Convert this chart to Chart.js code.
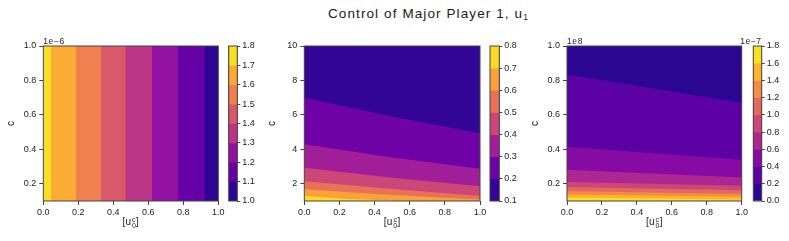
<!DOCTYPE html>
<html>
<head>
<meta charset="utf-8">
<script src="https://cdn.jsdelivr.net/npm/chart.js@4.4.1/dist/chart.umd.min.js"></script>
<style>
  body { margin: 0; width: 789px; height: 241px; position: relative; overflow: hidden; background: #fff;
         font-family: "Liberation Sans", Arial, sans-serif; color: #1a1a1a; }
  canvas { position: absolute; }
  .txt { position: absolute; white-space: nowrap; }
  .title { left: 328px; top: 6px; font-size: 13.5px; line-height: 15px; letter-spacing: 1.1px; }
  .title sub { font-size: 8.5px; vertical-align: -2px; }
  .xl { top: 215px; font-size: 10px; line-height: 14px; letter-spacing: 0.3px; transform: translateX(-50%); }
  .ss { display: inline-block; vertical-align: -3px; font-size: 7px; line-height: 6.5px; text-align: center; margin-left: 0.5px; }
  .ss span { display: block; }
  .off { top: 35.5px; font-size: 8.5px; line-height: 10px; letter-spacing: 0.6px; }
</style>
</head>
<body>
<div class="txt title">Control of Major Player 1, u<sub>1</sub></div>
<script>
// ---- data ----
const xTicks = [0, 0.2, 0.4, 0.6, 0.8, 1.0];

// panel 1: field only depends on x, so contour levels are vertical lines
const p1Levels = [1.0, 1.1, 1.2, 1.3, 1.4, 1.5, 1.6, 1.7, 1.8];
const p1CrossX = [0.922, 0.768, 0.621, 0.469, 0.330, 0.187, 0.044]; // levels 1.1 .. 1.7
const p1YTicks = [0.2, 0.4, 0.6, 0.8, 1.0];
const p1CbTicks = [1.0, 1.1, 1.2, 1.3, 1.4, 1.5, 1.6, 1.7, 1.8];

// panel 2: c where the field crosses each inner level (0.2 .. 0.7)
const p2Levels = [0.1, 0.2, 0.3, 0.4, 0.5, 0.6, 0.7, 0.8];
const p2CrossX = [[0, 0.5, 1], [0, 0.5, 1], [0, 0.5, 1], [0, 0.5, 1], [0, 0.5, 1], [0, 0.2, 0.55, 1]];
const p2CrossC = [
  [6.99, 5.91, 4.94],
  [4.30, 3.53, 2.87],
  [2.93, 2.35, 1.85],
  [2.14, 1.70, 1.29],
  [1.68, 1.35, 1.08],
  [1.31, 1.14, 1.00, 1.00]
];
const p2YTicks = [2, 4, 6, 8, 10];
const p2CbTicks = [0.1, 0.2, 0.3, 0.4, 0.5, 0.6, 0.7, 0.8];

// panel 3: c (x1e8) where the field (x1e-7) crosses levels 0.2 .. 1.6
const p3Levels = [0.0, 0.2, 0.4, 0.6, 0.8, 1.0, 1.2, 1.4, 1.6, 1.8];
const p3CrossX = [0, 1];
const p3CrossC = [
  [0.834, 0.670],
  [0.415, 0.340],
  [0.282, 0.236],
  [0.210, 0.188],
  [0.181, 0.162],
  [0.157, 0.142],
  [0.138, 0.125],
  [0.120, 0.108]
];
const p3YTicks = [0.2, 0.4, 0.6, 0.8, 1.0];
const p3CbTicks = [0.0, 0.2, 0.4, 0.6, 0.8, 1.0, 1.2, 1.4, 1.6, 1.8];

// ---- layout / style ----
const FONT = '"Liberation Sans", Arial, sans-serif';
const INK = '#1a1a1a';
const EDGE = '#444444';
const figTop = 30, figH = 211, plotTop = 46, plotBottom = 201;
const panels = [
  { left: 43.3, right: 218.3, cbLeft: 228.7, cbRight: 237.3 },
  { left: 304.3, right: 480.0, cbLeft: 490.0, cbRight: 499.3 },
  { left: 567.0, right: 741.7, cbLeft: 753.3, cbRight: 761.7 }
];

const plasmaStops = ['#0d0887', '#41049d', '#6a00a8', '#8f0da4', '#b12a90', '#cc4778',
                     '#e16462', '#f2844b', '#fca636', '#fcce25', '#f0f921'];
function plasma(t) {
  const s = Math.min(Math.max(t, 0), 1) * 10;
  const i = Math.min(Math.floor(s), 9), f = s - i;
  const a = plasmaStops[i], b = plasmaStops[i + 1];
  const ch = (h, k) => parseInt(h.slice(1 + 2 * k, 3 + 2 * k), 16);
  const c = [0, 1, 2].map(k => Math.round(ch(a, k) + (ch(b, k) - ch(a, k)) * f));
  return `rgb(${c[0]},${c[1]},${c[2]})`;
}
function bandColors(levels) {
  const n = levels.length - 1;
  return Array.from({ length: n }, (_, i) => plasma((i + 0.5) / n));
}

const frame = {
  id: 'frame',
  afterDraw(chart) {
    const a = chart.chartArea, ctx = chart.ctx;
    ctx.save();
    ctx.strokeStyle = EDGE;
    ctx.lineWidth = 1;
    ctx.strokeRect(a.left, a.top, a.right - a.left, a.bottom - a.top);
    ctx.restore();
  }
};

function addCanvas(left, width) {
  const c = document.createElement('canvas');
  c.width = width;
  c.height = figH;
  c.style.left = left + 'px';
  c.style.top = figTop + 'px';
  document.body.appendChild(c);
  return c;
}

function addText(cls, html, left, right) {
  const d = document.createElement('div');
  d.className = 'txt ' + cls;
  d.innerHTML = html;
  if (left != null) d.style.left = left + 'px';
  if (right != null) d.style.right = (789 - right) + 'px';
  document.body.appendChild(d);
}

const fixTicks = vals => s => { s.ticks = vals.map(v => ({ value: v })); };
const tickFont = { family: FONT, size: 9 };

function plotChart(p, datasets, yMin, yMax, yTicks, yFmt) {
  const cl = Math.floor(p.left - 44);
  const cw = Math.ceil(p.right) + 12 - cl;
  const yw = p.left - cl;
  new Chart(addCanvas(cl, cw), {
    type: 'line',
    data: { datasets },
    options: {
      responsive: false,
      animation: false,
      layout: { padding: { top: plotTop - figTop, right: cl + cw - p.right, bottom: 0, left: 0 } },
      plugins: { legend: { display: false }, tooltip: { enabled: false } },
      elements: { point: { radius: 0 }, line: { borderWidth: 0, borderColor: 'transparent', tension: 0 } },
      scales: {
        x: {
          type: 'linear', min: 0, max: 1,
          afterBuildTicks: fixTicks(xTicks),
          afterFit: s => { s.height = figTop + figH - plotBottom; },
          ticks: { font: tickFont, color: INK, padding: 2, maxRotation: 0, autoSkip: false,
                   callback: v => v.toFixed(1) },
          grid: { drawOnChartArea: false, tickLength: 4, color: EDGE },
          border: { display: false }
        },
        y: {
          type: 'linear', min: yMin, max: yMax,
          afterBuildTicks: fixTicks(yTicks),
          afterFit: s => { s.width = yw; },
          ticks: { font: tickFont, color: INK, padding: 3, autoSkip: false, callback: yFmt },
          grid: { drawOnChartArea: false, tickLength: 4, color: EDGE },
          border: { display: false },
          title: { display: true, text: 'c', color: INK, font: { family: FONT, size: 10 },
                   padding: { top: p.left - 32 - cl - 6, bottom: 0 } }
        }
      }
    },
    plugins: [frame]
  });
  addText('xl', '[u<span class="ss"><span>c</span><span>0</span></span>]', (p.left + p.right) / 2);
}

function colorbar(p, levels, ticks) {
  const colors = bandColors(levels);
  const n = colors.length;
  const cl = Math.floor(p.cbLeft) - 2;
  const cw = 42;
  const datasets = colors.map((col, i) => ({
    data: [[levels[i], levels[n]]],
    backgroundColor: col,
    borderWidth: 0,
    order: n - 1 - i
  }));
  new Chart(addCanvas(cl, cw), {
    type: 'bar',
    data: { labels: [''], datasets },
    options: {
      responsive: false,
      animation: false,
      datasets: { bar: { grouped: false, barPercentage: 1, categoryPercentage: 1 } },
      layout: { padding: { top: plotTop - figTop, bottom: figTop + figH - plotBottom, left: p.cbLeft - cl, right: 0 } },
      plugins: { legend: { display: false }, tooltip: { enabled: false } },
      scales: {
        x: { display: false },
        y: {
          position: 'right', min: levels[0], max: levels[n],
          afterBuildTicks: fixTicks(ticks),
          afterFit: s => { s.width = cw - (p.cbRight - cl); },
          ticks: { font: tickFont, color: INK, padding: 2, autoSkip: false,
                   callback: v => v.toFixed(1) },
          grid: { drawOnChartArea: false, tickLength: 3, color: EDGE },
          border: { display: false }
        }
      }
    },
    plugins: [frame]
  });
}

// panel 1: vertical bands, each drawn from its crossing to the right edge, darker on top
function verticalBands(levels, cross, yMax) {
  const colors = bandColors(levels);
  const n = colors.length;
  const sets = [{ data: [{ x: 0, y: yMax }, { x: 1, y: yMax }], fill: 'start', backgroundColor: colors[n - 1], order: n }];
  cross.forEach((x, k) => {
    sets.push({ data: [{ x: x, y: yMax }, { x: 1, y: yMax }], fill: 'start', backgroundColor: colors[k], order: k });
  });
  return sets;
}

// panels 2,3: each crossing line filled up to the top, lower levels on top
function curvedBands(levels, crossX, crossC, yMin) {
  const colors = bandColors(levels);
  const n = colors.length;
  const sets = [{ data: [{ x: 0, y: yMin }, { x: 1, y: yMin }], fill: 'end', backgroundColor: colors[n - 1], order: n }];
  crossC.forEach((cs, k) => {
    const xs = Array.isArray(crossX[0]) ? crossX[k] : crossX;
    sets.push({ data: cs.map((c, j) => ({ x: xs[j], y: c })), fill: 'end', backgroundColor: colors[k], order: k });
  });
  return sets;
}

const f1 = v => v.toFixed(1);
const f0 = v => v.toFixed(0);

plotChart(panels[0], verticalBands(p1Levels, p1CrossX, 1.0), 0.1, 1.0, p1YTicks, f1);
colorbar(panels[0], p1Levels, p1CbTicks);
plotChart(panels[1], curvedBands(p2Levels, p2CrossX, p2CrossC, 1), 1, 10, p2YTicks, f0);
colorbar(panels[1], p2Levels, p2CbTicks);
plotChart(panels[2], curvedBands(p3Levels, p3CrossX, p3CrossC, 0.1), 0.1, 1.0, p3YTicks, f1);
colorbar(panels[2], p3Levels, p3CbTicks);

addText('off', '1e\u22126', panels[0].left);
addText('off', '1e8', panels[2].left);
addText('off', '1e\u22127', null, panels[2].cbRight);
</script>
</body>
</html>
